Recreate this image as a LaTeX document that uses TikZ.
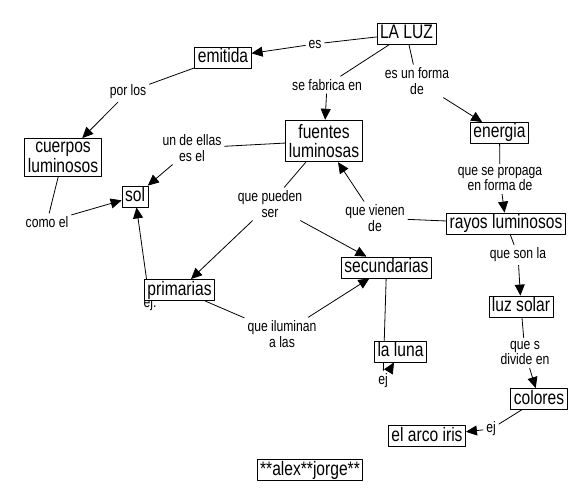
\documentclass[tikz,border=0pt]{standalone}
\usepackage{fontspec}
\setmainfont[FakeStretch=0.8]{Liberation Sans}
\usetikzlibrary{arrows.meta}

\tikzset{
  box/.style={draw, fill=white, line width=0.8pt, inner xsep=3pt, inner ysep=1.5pt,
    font=\fontsize{19.5}{19.3}\selectfont, text height=14pt, text depth=4pt},
  box2/.style={draw, fill=white, line width=0.8pt, inner xsep=3pt, inner ysep=4pt,
    font=\fontsize{19.5}{19.3}\selectfont, align=center},
  lbl/.style={inner sep=3pt, font=\fontsize{15.2}{15.7}\selectfont, align=center},
  link/.style={line width=0.8pt},
  arr/.style={line width=0.8pt, -{Triangle[length=11pt,width=10pt]}}
}

\begin{document}
\begin{tikzpicture}[x=1pt, y=-1pt, line join=round, line cap=round]
\useasboundingbox (0,0) rectangle (585,502);
\node[box] (luz) at (406.5,33.5) {LA LUZ};
\node[box] (emitida) at (223,57.5) {emitida};
\node[box2] (cuerpos) at (63,157.5) {cuerpos\\luminosos};
\node[box] (sol) at (135,196.5) {sol};
\node[box2] (fuentes) at (324,141) {fuentes\\luminosas};
\node[box] (energia) at (499.5,133) {energia};
\node[box] (rayos) at (506,223.5) {rayos luminosos};
\node[box] (secundarias) at (386.5,267.5) {secundarias};
\node[box] (solar) at (521,306.5) {luz solar};
\node[box] (colores) at (539,399) {colores};
\node[box] (arco) at (427,436) {el arco iris};
\node[box] (autores) at (310,470) {**alex**jorge**};

\node[lbl] (es) at (315,44) {es};
\node[lbl] (fabrica) at (327,85) {se fabrica en};
\node[lbl] (forma) at (417,81) {es un forma\\de};
\node[lbl] (porlos) at (128,92) {por los};
\node[lbl] (ellas) at (192,148) {un de ellas\\es el};
\node[lbl] (comoel) at (47,222) {como el};
\node[lbl] (pueden) at (270,204) {que pueden\\ser};
\node[lbl] (vienen) at (375,218) {que vienen\\de};
\node[lbl] (propaga) at (500,179) {que se propaga\\en forma de};
\node[lbl] (sonla) at (518,255) {que son la};
\node[lbl] (divide) at (525,353) {que s\\divide en};
\node[lbl] (iluminan) at (282,334) {que iluminan\\a las};
\node[lbl] (ejluna) at (383,381) {ej};
\node[lbl] (ejarco) at (491,429) {ej};
\node[lbl] (ejsol) at (150,304) {ej.};

\draw[arr] (ejsol) -- (sol);
\node[box] (primarias) at (179.5,290) {primarias};
\draw[link] (secundarias) -- (ejluna);
\node[box] (luna) at (400.5,351.5) {la luna};
\draw[arr] (ejluna) -- (luna);

\draw[link] (luz) -- (es);
\draw[arr] (es) -- (emitida);
\draw[link] (luz) -- (fabrica);
\draw[arr] (fabrica) -- (fuentes);
\draw[link] (luz) -- (forma);
\draw[arr] (forma) -- (energia);
\draw[link] (emitida) -- (porlos);
\draw[arr] (porlos) -- (cuerpos);
\draw[link] (fuentes) -- (ellas);
\draw[arr] (ellas) -- (sol);
\draw[link] (cuerpos) -- (comoel);
\draw[arr] (comoel) -- (sol);
\draw[link] (fuentes) -- (pueden);
\draw[arr] (pueden) -- (primarias);
\draw[arr] (pueden) -- (secundarias);
\draw[link] (rayos) -- (vienen);
\draw[arr] (vienen) -- (fuentes);
\draw[link] (energia) -- (propaga);
\draw[arr] (propaga) -- (rayos);
\draw[link] (rayos) -- (sonla);
\draw[arr] (sonla) -- (solar);
\draw[link] (primarias) -- (iluminan);
\draw[arr] (iluminan) -- (secundarias);
\draw[link] (solar) -- (divide);
\draw[arr] (divide) -- (colores);
\draw[link] (colores) -- (ejarco);
\draw[arr] (ejarco) -- (arco);
\end{tikzpicture}
\end{document}
